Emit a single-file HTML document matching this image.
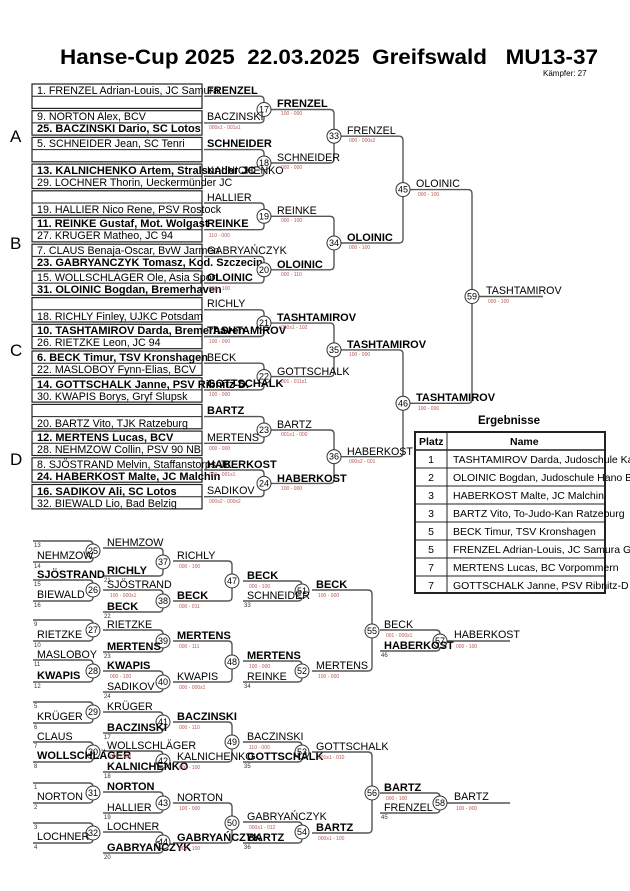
<!DOCTYPE html>
<html><head><meta charset="utf-8"><style>
html,body{margin:0;padding:0;background:#fff;}
svg{display:block;font-family:"Liberation Sans",sans-serif;}
.n{font-size:10.7px;fill:#000;}
.b{font-size:11px;font-weight:bold;fill:#000;}
.bx{font-size:10.7px;fill:#000;}
.bxb{font-size:11px;font-weight:bold;fill:#000;}
.s{font-size:5px;fill:#b55;}
.sm{font-size:6px;fill:#333;}
.c{font-size:9px;fill:#000;text-anchor:middle;}
path{fill:none;stroke:#555;stroke-width:1.4;}
circle{fill:#fff;stroke:#333;stroke-width:1;}
rect.box{fill:none;stroke:#222;stroke-width:1.2;}
</style></head><body>
<svg width="630" height="891" viewBox="0 0 630 891">
<text x="60" y="64" textLength="538" lengthAdjust="spacingAndGlyphs" style="font-size:21px;font-weight:bold;white-space:pre">Hanse-Cup 2025  22.03.2025  Greifswald   MU13-37</text>
<text x="543" y="76" style="font-size:8px">Kämpfer: 27</text>

<g style="font-size:17px">
<text x="10" y="142">A</text><text x="10" y="249">B</text><text x="10" y="356">C</text><text x="10" y="465">D</text>
</g>

<!-- boxes -->
<g>
<rect class="box" x="32" y="84" width="170" height="24.4"/><line x1="32" y1="96.2" x2="202" y2="96.2" stroke="#222"/>
<rect class="box" x="32" y="110.7" width="170" height="24.4"/><line x1="32" y1="122.9" x2="202" y2="122.9" stroke="#222"/>
<rect class="box" x="32" y="137.4" width="170" height="24.4"/><line x1="32" y1="149.6" x2="202" y2="149.6" stroke="#222"/>
<rect class="box" x="32" y="164.1" width="170" height="24.4"/><line x1="32" y1="176.3" x2="202" y2="176.3" stroke="#222"/>
<rect class="box" x="32" y="190.8" width="170" height="24.4"/><line x1="32" y1="203" x2="202" y2="203" stroke="#222"/>
<rect class="box" x="32" y="217.5" width="170" height="24.4"/><line x1="32" y1="229.7" x2="202" y2="229.7" stroke="#222"/>
<rect class="box" x="32" y="244.2" width="170" height="24.4"/><line x1="32" y1="256.4" x2="202" y2="256.4" stroke="#222"/>
<rect class="box" x="32" y="270.9" width="170" height="24.4"/><line x1="32" y1="283.1" x2="202" y2="283.1" stroke="#222"/>
<rect class="box" x="32" y="297.6" width="170" height="24.4"/><line x1="32" y1="309.8" x2="202" y2="309.8" stroke="#222"/>
<rect class="box" x="32" y="324.3" width="170" height="24.4"/><line x1="32" y1="336.5" x2="202" y2="336.5" stroke="#222"/>
<rect class="box" x="32" y="351" width="170" height="24.4"/><line x1="32" y1="363.2" x2="202" y2="363.2" stroke="#222"/>
<rect class="box" x="32" y="377.7" width="170" height="24.4"/><line x1="32" y1="389.9" x2="202" y2="389.9" stroke="#222"/>
<rect class="box" x="32" y="404.4" width="170" height="24.4"/><line x1="32" y1="416.6" x2="202" y2="416.6" stroke="#222"/>
<rect class="box" x="32" y="431.1" width="170" height="24.4"/><line x1="32" y1="443.3" x2="202" y2="443.3" stroke="#222"/>
<rect class="box" x="32" y="457.8" width="170" height="24.4"/><line x1="32" y1="470" x2="202" y2="470" stroke="#222"/>
<rect class="box" x="32" y="484.5" width="170" height="24.4"/><line x1="32" y1="496.7" x2="202" y2="496.7" stroke="#222"/>
</g>
<g>
<text class="bx" x="37" y="94">1. FRENZEL Adrian-Louis, JC Samura</text>
<text class="bx" x="37" y="120">9. NORTON Alex, BCV</text>
<text class="bxb" x="37" y="132">25. BACZINSKI Dario, SC Lotos</text>
<text class="bx" x="37" y="147">5. SCHNEIDER Jean, SC Tenri</text>
<text class="bxb" x="37" y="174">13. KALNICHENKO Artem, Stralsunder JC</text>
<text class="bx" x="37" y="186">29. LOCHNER Thorin, Ueckermünder JC</text>
<text class="bx" x="37" y="213">19. HALLIER Nico Rene, PSV Rostock</text>
<text class="bxb" x="37" y="227">11. REINKE Gustaf, Mot. Wolgast</text>
<text class="bx" x="37" y="239">27. KRUGER Matheo, JC 94</text>
<text class="bx" x="37" y="254">7. CLAUS Benaja-Oscar, BvW Jarmen</text>
<text class="bxb" x="37" y="266">23. GABRYANCZYK Tomasz, Kod. Szczecin</text>
<text class="bx" x="37" y="281">15. WOLLSCHLAGER Ole, Asia Sport</text>
<text class="bxb" x="37" y="293">31. OLOINIC Bogdan, Bremerhaven</text>
<text class="bx" x="37" y="320">18. RICHLY Finley, UJKC Potsdam</text>
<text class="bxb" x="37" y="334">10. TASHTAMIROV Darda, Bremerhaven</text>
<text class="bx" x="37" y="346">26. RIETZKE Leon, JC 94</text>
<text class="bxb" x="37" y="361">6. BECK Timur, TSV Kronshagen</text>
<text class="bx" x="37" y="373">22. MASLOBOY Fynn-Elias, BCV</text>
<text class="bxb" x="37" y="388">14. GOTTSCHALK Janne, PSV Ribnitz-D.</text>
<text class="bx" x="37" y="400">30. KWAPIS Borys, Gryf Slupsk</text>
<text class="bx" x="37" y="427">20. BARTZ Vito, TJK Ratzeburg</text>
<text class="bxb" x="37" y="441">12. MERTENS Lucas, BCV</text>
<text class="bx" x="37" y="453">28. NEHMZOW Collin, PSV 90 NB</text>
<text class="bx" x="37" y="468">8. SJÖSTRAND Melvin, Staffanstorps JK</text>
<text class="bxb" x="37" y="480">24. HABERKOST Malte, JC Malchin</text>
<text class="bxb" x="37" y="495">16. SADIKOV Ali, SC Lotos</text>
<text class="bx" x="37" y="507">32. BIEWALD Lio, Bad Belzig</text>
</g>

<!-- main bracket lines -->
<g>
<path d="M204 96.2H260Q264 96.2 264 100.2V118.9Q264 122.9 260 122.9H204"/>
<path d="M204 149.6H260Q264 149.6 264 153.6V172.3Q264 176.3 260 176.3H204"/>
<path d="M204 203H260Q264 203 264 207V225.7Q264 229.7 260 229.7H204"/>
<path d="M204 256.4H260Q264 256.4 264 260.4V279.1Q264 283.1 260 283.1H204"/>
<path d="M204 309.8H260Q264 309.8 264 313.8V332.5Q264 336.5 260 336.5H204"/>
<path d="M204 363.2H260Q264 363.2 264 367.2V385.9Q264 389.9 260 389.9H204"/>
<path d="M204 416.6H260Q264 416.6 264 420.6V439.3Q264 443.3 260 443.3H204"/>
<path d="M204 470H260Q264 470 264 474V492.7Q264 496.7 260 496.7H204"/>
<path d="M271 109.5H330Q334 109.5 334 113.5V159Q334 163 330 163H271"/>
<path d="M271 216.3H330Q334 216.3 334 220.3V265.8Q334 269.8 330 269.8H271"/>
<path d="M271 323.1H330Q334 323.1 334 327.1V372.6Q334 376.6 330 376.6H271"/>
<path d="M271 430H330Q334 430 334 434V479.4Q334 483.4 330 483.4H271"/>
<path d="M341 136.2H399Q403 136.2 403 140.2V239Q403 243 399 243H341"/>
<path d="M341 349.9H399Q403 349.9 403 353.9V452.7Q403 456.7 399 456.7H341"/>
<path d="M410 189.6H468Q472 189.6 472 193.6V399.3Q472 403.3 468 403.3H410"/>
<path d="M479 296.5H543"/>
</g>
<g>
<circle cx="264" cy="109.5" r="7"/><text class="c" x="264" y="112.5">17</text>
<circle cx="264" cy="163" r="7"/><text class="c" x="264" y="166">18</text>
<circle cx="264" cy="216.3" r="7"/><text class="c" x="264" y="219.3">19</text>
<circle cx="264" cy="269.8" r="7"/><text class="c" x="264" y="272.8">20</text>
<circle cx="264" cy="323.1" r="7"/><text class="c" x="264" y="326.1">21</text>
<circle cx="264" cy="376.6" r="7"/><text class="c" x="264" y="379.6">22</text>
<circle cx="264" cy="430" r="7"/><text class="c" x="264" y="433">23</text>
<circle cx="264" cy="483.4" r="7"/><text class="c" x="264" y="486.4">24</text>
<circle cx="334" cy="136.2" r="7"/><text class="c" x="334" y="139.2">33</text>
<circle cx="334" cy="243" r="7"/><text class="c" x="334" y="246">34</text>
<circle cx="334" cy="349.9" r="7"/><text class="c" x="334" y="352.9">35</text>
<circle cx="334" cy="456.7" r="7"/><text class="c" x="334" y="459.7">36</text>
<circle cx="403" cy="189.6" r="7"/><text class="c" x="403" y="192.6">45</text>
<circle cx="403" cy="403.3" r="7"/><text class="c" x="403" y="406.3">46</text>
<circle cx="472" cy="296.5" r="7"/><text class="c" x="472" y="299.5">59</text>
</g>
<g>
<text class="b" x="207" y="94">FRENZEL</text><text class="n" x="207" y="120">BACZINSKI</text>
<text class="b" x="207" y="147">SCHNEIDER</text><text class="n" x="207" y="174">KALNICHENKO</text>
<text class="n" x="207" y="201">HALLIER</text><text class="b" x="207" y="227">REINKE</text>
<text class="n" x="207" y="254">GABRYAŃCZYK</text><text class="b" x="207" y="281">OLOINIC</text>
<text class="n" x="207" y="307">RICHLY</text><text class="b" x="207" y="334">TASHTAMIROV</text>
<text class="n" x="207" y="361">BECK</text><text class="b" x="207" y="387">GOTTSCHALK</text>
<text class="b" x="207" y="414">BARTZ</text><text class="n" x="207" y="441">MERTENS</text>
<text class="b" x="207" y="468">HABERKOST</text><text class="n" x="207" y="494">SADIKOV</text>
<text class="b" x="277" y="107">FRENZEL</text><text class="n" x="277" y="161">SCHNEIDER</text>
<text class="n" x="277" y="214">REINKE</text><text class="b" x="277" y="268">OLOINIC</text>
<text class="b" x="277" y="321">TASHTAMIROV</text><text class="n" x="277" y="375">GOTTSCHALK</text>
<text class="n" x="277" y="428">BARTZ</text><text class="b" x="277" y="482">HABERKOST</text>
<text class="n" x="347" y="134">FRENZEL</text><text class="b" x="347" y="241">OLOINIC</text>
<text class="b" x="347" y="348">TASHTAMIROV</text><text class="n" x="347" y="455">HABERKOST</text>
<text class="n" x="416" y="187">OLOINIC</text><text class="b" x="416" y="401">TASHTAMIROV</text>
<text class="n" x="486" y="294">TASHTAMIROV</text>
</g>
<g class="s">
<text class="s" x="209" y="129">000s1 - 001s1</text><text class="s" x="209" y="237">110 - 000</text>
<text class="s" x="209" y="290">000 - 100</text><text class="s" x="209" y="343">100 - 000</text>
<text class="s" x="209" y="396">100 - 000</text><text class="s" x="209" y="450">000 - 000</text>
<text class="s" x="209" y="476">000 - 001s1</text><text class="s" x="209" y="503">000s2 - 000s2</text>
<text class="s" x="281" y="115">100 - 000</text><text class="s" x="281" y="169">000 - 000</text>
<text class="s" x="281" y="222">000 - 100</text><text class="s" x="281" y="276">000 - 110</text>
<text class="s" x="281" y="329">000s1 - 102</text><text class="s" x="281" y="383">001 - 011s1</text>
<text class="s" x="281" y="436">001s1 - 000</text><text class="s" x="281" y="490">100 - 000</text>
<text class="s" x="349" y="142">000 - 000s2</text><text class="s" x="349" y="249">000 - 100</text>
<text class="s" x="349" y="356">100 - 000</text><text class="s" x="349" y="463">000s2 - 001</text>
<text class="s" x="418" y="196">000 - 100</text><text class="s" x="418" y="410">100 - 000</text>
<text class="s" x="488" y="303">000 - 100</text>
</g>

<!-- results -->
<text x="478" y="424" style="font-size:11.5px;font-weight:bold">Ergebnisse</text>
<rect x="415" y="432" width="190" height="161" fill="none" stroke="#222" stroke-width="2"/>
<g stroke="#222" stroke-width="1">
<line x1="447" y1="432" x2="447" y2="593"/>
<line x1="415" y1="450" x2="605" y2="450" stroke-width="1.5"/>
<line x1="415" y1="468" x2="605" y2="468"/><line x1="415" y1="486" x2="605" y2="486"/>
<line x1="415" y1="504" x2="605" y2="504"/><line x1="415" y1="522" x2="605" y2="522"/>
<line x1="415" y1="540" x2="605" y2="540"/><line x1="415" y1="558" x2="605" y2="558"/>
<line x1="415" y1="576" x2="605" y2="576"/>
</g>
<g style="font-size:10.5px">
<text x="419" y="445" font-weight="bold">Platz</text><text x="510" y="445" font-weight="bold">Name</text>
<text x="431" y="463" text-anchor="middle">1</text><text x="453" y="463">TASHTAMIROV Darda, Judoschule Kano</text>
<text x="431" y="481" text-anchor="middle">2</text><text x="453" y="481">OLOINIC Bogdan, Judoschule Hano B</text>
<text x="431" y="499" text-anchor="middle">3</text><text x="453" y="499">HABERKOST Malte, JC Malchin</text>
<text x="431" y="517" text-anchor="middle">3</text><text x="453" y="517">BARTZ Vito, To-Judo-Kan Ratzeburg</text>
<text x="431" y="535" text-anchor="middle">5</text><text x="453" y="535">BECK Timur, TSV Kronshagen</text>
<text x="431" y="553" text-anchor="middle">5</text><text x="453" y="553">FRENZEL Adrian-Louis, JC Samura G</text>
<text x="431" y="571" text-anchor="middle">7</text><text x="453" y="571">MERTENS Lucas, BC Vorpommern</text>
<text x="431" y="589" text-anchor="middle">7</text><text x="453" y="589">GOTTSCHALK Janne, PSV Ribnitz-D</text>
</g>

<!-- repechage lines -->
<g>
<path d="M33 541H89Q93 541 93 545V558Q93 562 89 562H33"/>
<path d="M33 580H89Q93 580 93 584V597Q93 601 89 601H33"/>
<path d="M33 620H89Q93 620 93 624V637Q93 641 89 641H33"/>
<path d="M33 660H89Q93 660 93 664V678Q93 682 89 682H33"/>
<path d="M33 702H89Q93 702 93 706V719Q93 723 89 723H33"/>
<path d="M33 742H89Q93 742 93 746V758Q93 762 89 762H33"/>
<path d="M33 783H89Q93 783 93 787V799Q93 803 89 803H33"/>
<path d="M33 823H89Q93 823 93 827V839Q93 843 89 843H33"/>
<path d="M103 548H159Q163 548 163 552V572Q163 576 159 576H103"/>
<path d="M103 590H159Q163 590 163 594V608Q163 612 159 612H103"/>
<path d="M103 630H159Q163 630 163 634V648Q163 652 159 652H103"/>
<path d="M103 671H159Q163 671 163 675V688Q163 692 159 692H103"/>
<path d="M103 712H159Q163 712 163 716V729Q163 733 159 733H103"/>
<path d="M103 751H159Q163 751 163 755V768Q163 772 159 772H103"/>
<path d="M103 792H159Q163 792 163 796V809Q163 813 159 813H103"/>
<path d="M103 832H159Q163 832 163 836V849Q163 853 159 853H103"/>
<path d="M173 561H228Q232 561 232 565V597Q232 601 228 601H173"/>
<path d="M173 641H228Q232 641 232 645V678Q232 682 228 682H173"/>
<path d="M173 722H228Q232 722 232 726V758Q232 762 228 762H173"/>
<path d="M173 803H228Q232 803 232 807V839Q232 843 228 843H173"/>
<path d="M243 581H298Q302 581 302 585V597Q302 601 298 601H243"/>
<path d="M243 661H298Q302 661 302 665V678Q302 682 298 682H243"/>
<path d="M243 742H298Q302 742 302 746V758Q302 762 298 762H243"/>
<path d="M243 822H298Q302 822 302 826V839Q302 843 298 843H243"/>
<path d="M312 590H368Q372 590 372 594V667Q372 671 368 671H312"/>
<path d="M312 752H368Q372 752 372 756V829Q372 833 368 833H312"/>
<path d="M380 630H436Q440 630 440 634V647Q440 651 436 651H380"/>
<path d="M380 793H436Q440 793 440 797V809Q440 813 436 813H380"/>
<path d="M447 641H510"/><path d="M447 803H510"/>
</g>
<g>
<circle cx="93" cy="551" r="7"/><text class="c" x="93" y="554">25</text>
<circle cx="93" cy="590" r="7"/><text class="c" x="93" y="593">26</text>
<circle cx="93" cy="630" r="7"/><text class="c" x="93" y="633">27</text>
<circle cx="93" cy="671" r="7"/><text class="c" x="93" y="674">28</text>
<circle cx="93" cy="712" r="7"/><text class="c" x="93" y="715">29</text>
<circle cx="93" cy="752" r="7"/><text class="c" x="93" y="755">30</text>
<circle cx="93" cy="793" r="7"/><text class="c" x="93" y="796">31</text>
<circle cx="93" cy="833" r="7"/><text class="c" x="93" y="836">32</text>
<circle cx="163" cy="562" r="7"/><text class="c" x="163" y="565">37</text>
<circle cx="163" cy="601" r="7"/><text class="c" x="163" y="604">38</text>
<circle cx="163" cy="641" r="7"/><text class="c" x="163" y="644">39</text>
<circle cx="163" cy="682" r="7"/><text class="c" x="163" y="685">40</text>
<circle cx="163" cy="722" r="7"/><text class="c" x="163" y="725">41</text>
<circle cx="163" cy="761" r="7"/><text class="c" x="163" y="764">42</text>
<circle cx="163" cy="803" r="7"/><text class="c" x="163" y="806">43</text>
<circle cx="163" cy="842" r="7"/><text class="c" x="163" y="845">44</text>
<circle cx="232" cy="581" r="7"/><text class="c" x="232" y="584">47</text>
<circle cx="232" cy="662" r="7"/><text class="c" x="232" y="665">48</text>
<circle cx="232" cy="742" r="7"/><text class="c" x="232" y="745">49</text>
<circle cx="232" cy="823" r="7"/><text class="c" x="232" y="826">50</text>
<circle cx="302" cy="591" r="7"/><text class="c" x="302" y="594">51</text>
<circle cx="302" cy="671" r="7"/><text class="c" x="302" y="674">52</text>
<circle cx="302" cy="752" r="7"/><text class="c" x="302" y="755">53</text>
<circle cx="302" cy="832" r="7"/><text class="c" x="302" y="835">54</text>
<circle cx="372" cy="631" r="7"/><text class="c" x="372" y="634">55</text>
<circle cx="372" cy="793" r="7"/><text class="c" x="372" y="796">56</text>
<circle cx="440" cy="641" r="7"/><text class="c" x="440" y="644">57</text>
<circle cx="440" cy="803" r="7"/><text class="c" x="440" y="806">58</text>
</g>
<g>
<text class="n" x="37" y="559">NEHMZOW</text>
<text class="b" x="37" y="578">SJÖSTRAND</text><text class="n" x="37" y="598">BIEWALD</text>
<text class="n" x="37" y="638">RIETZKE</text>
<text class="n" x="37" y="658">MASLOBOY</text><text class="b" x="37" y="679">KWAPIS</text>
<text class="n" x="37" y="720">KRÜGER</text>
<text class="n" x="37" y="740">CLAUS</text><text class="b" x="37" y="759">WOLLSCHLÄGER</text>
<text class="n" x="37" y="800">NORTON</text>
<text class="n" x="37" y="840">LOCHNER</text>
<text class="n" x="107" y="546">NEHMZOW</text><text class="b" x="107" y="574">RICHLY</text>
<text class="n" x="107" y="588">SJÖSTRAND</text><text class="b" x="107" y="610">BECK</text>
<text class="n" x="107" y="628">RIETZKE</text><text class="b" x="107" y="650">MERTENS</text>
<text class="b" x="107" y="669">KWAPIS</text><text class="n" x="107" y="690">SADIKOV</text>
<text class="n" x="107" y="710">KRÜGER</text><text class="b" x="107" y="731">BACZINSKI</text>
<text class="n" x="107" y="749">WOLLSCHLÄGER</text><text class="b" x="107" y="770">KALNICHENKO</text>
<text class="b" x="107" y="790">NORTON</text><text class="n" x="107" y="811">HALLIER</text>
<text class="n" x="107" y="830">LOCHNER</text><text class="b" x="107" y="851">GABRYAŃCZYK</text>
<text class="n" x="177" y="559">RICHLY</text><text class="b" x="177" y="599">BECK</text>
<text class="b" x="177" y="639">MERTENS</text><text class="n" x="177" y="680">KWAPIS</text>
<text class="b" x="177" y="720">BACZINSKI</text><text class="n" x="177" y="760">KALNICHENKO</text>
<text class="n" x="177" y="801">NORTON</text><text class="b" x="177" y="841">GABRYAŃCZYK</text>
<text class="b" x="247" y="579">BECK</text><text class="n" x="247" y="599">SCHNEIDER</text>
<text class="b" x="247" y="659">MERTENS</text><text class="n" x="247" y="680">REINKE</text>
<text class="n" x="247" y="740">BACZINSKI</text><text class="b" x="247" y="760">GOTTSCHALK</text>
<text class="n" x="247" y="820">GABRYAŃCZYK</text><text class="b" x="247" y="841">BARTZ</text>
<text class="b" x="316" y="588">BECK</text><text class="n" x="316" y="669">MERTENS</text>
<text class="n" x="316" y="750">GOTTSCHALK</text><text class="b" x="316" y="831">BARTZ</text>
<text class="n" x="384" y="628">BECK</text><text class="b" x="384" y="649">HABERKOST</text>
<text class="b" x="384" y="791">BARTZ</text><text class="n" x="384" y="811">FRENZEL</text>
<text class="n" x="454" y="638">HABERKOST</text><text class="n" x="454" y="800">BARTZ</text>
</g>
<g>
<text class="sm" x="34" y="547">13</text><text class="sm" x="34" y="568">14</text>
<text class="sm" x="34" y="586">15</text><text class="sm" x="34" y="607">16</text>
<text class="sm" x="34" y="626">9</text><text class="sm" x="34" y="647">10</text>
<text class="sm" x="34" y="666">11</text><text class="sm" x="34" y="688">12</text>
<text class="sm" x="34" y="708">5</text><text class="sm" x="34" y="729">6</text>
<text class="sm" x="34" y="748">7</text><text class="sm" x="34" y="768">8</text>
<text class="sm" x="34" y="789">1</text><text class="sm" x="34" y="809">2</text>
<text class="sm" x="34" y="829">3</text><text class="sm" x="34" y="849">4</text>
<text class="sm" x="104" y="582">21</text><text class="sm" x="104" y="618">22</text>
<text class="sm" x="104" y="658">23</text><text class="sm" x="104" y="698">24</text>
<text class="sm" x="104" y="739">17</text><text class="sm" x="104" y="778">18</text>
<text class="sm" x="104" y="819">19</text><text class="sm" x="104" y="859">20</text>
<text class="sm" x="244" y="607">33</text><text class="sm" x="244" y="688">34</text>
<text class="sm" x="244" y="768">35</text><text class="sm" x="244" y="849">36</text>
<text class="sm" x="381" y="657">46</text><text class="sm" x="381" y="819">45</text>
</g>
<g>
<text class="s" x="110" y="597">100 - 000s1</text><text class="s" x="110" y="678">000 - 100</text>
<text class="s" x="110" y="758">000 - 100</text>
<text class="s" x="179" y="568">000 - 100</text><text class="s" x="179" y="608">000 - 011</text>
<text class="s" x="179" y="648">000 - 111</text><text class="s" x="179" y="689">000 - 000s1</text>
<text class="s" x="179" y="729">000 - 110</text><text class="s" x="179" y="769">000 - 100</text>
<text class="s" x="179" y="810">100 - 000</text><text class="s" x="179" y="850">000 - 100</text>
<text class="s" x="249" y="588">000 - 100</text><text class="s" x="249" y="668">100 - 000</text>
<text class="s" x="249" y="749">110 - 000</text><text class="s" x="249" y="829">000s1 - 012</text>
<text class="s" x="318" y="597">100 - 000</text><text class="s" x="318" y="678">100 - 000</text>
<text class="s" x="318" y="759">001s1 - 010</text><text class="s" x="318" y="840">000s1 - 100</text>
<text class="s" x="386" y="637">001 - 000s1</text><text class="s" x="386" y="800">000 - 100</text>
<text class="s" x="456" y="648">000 - 100</text><text class="s" x="456" y="810">100 - 000</text>
</g>
</svg>
</body></html>
